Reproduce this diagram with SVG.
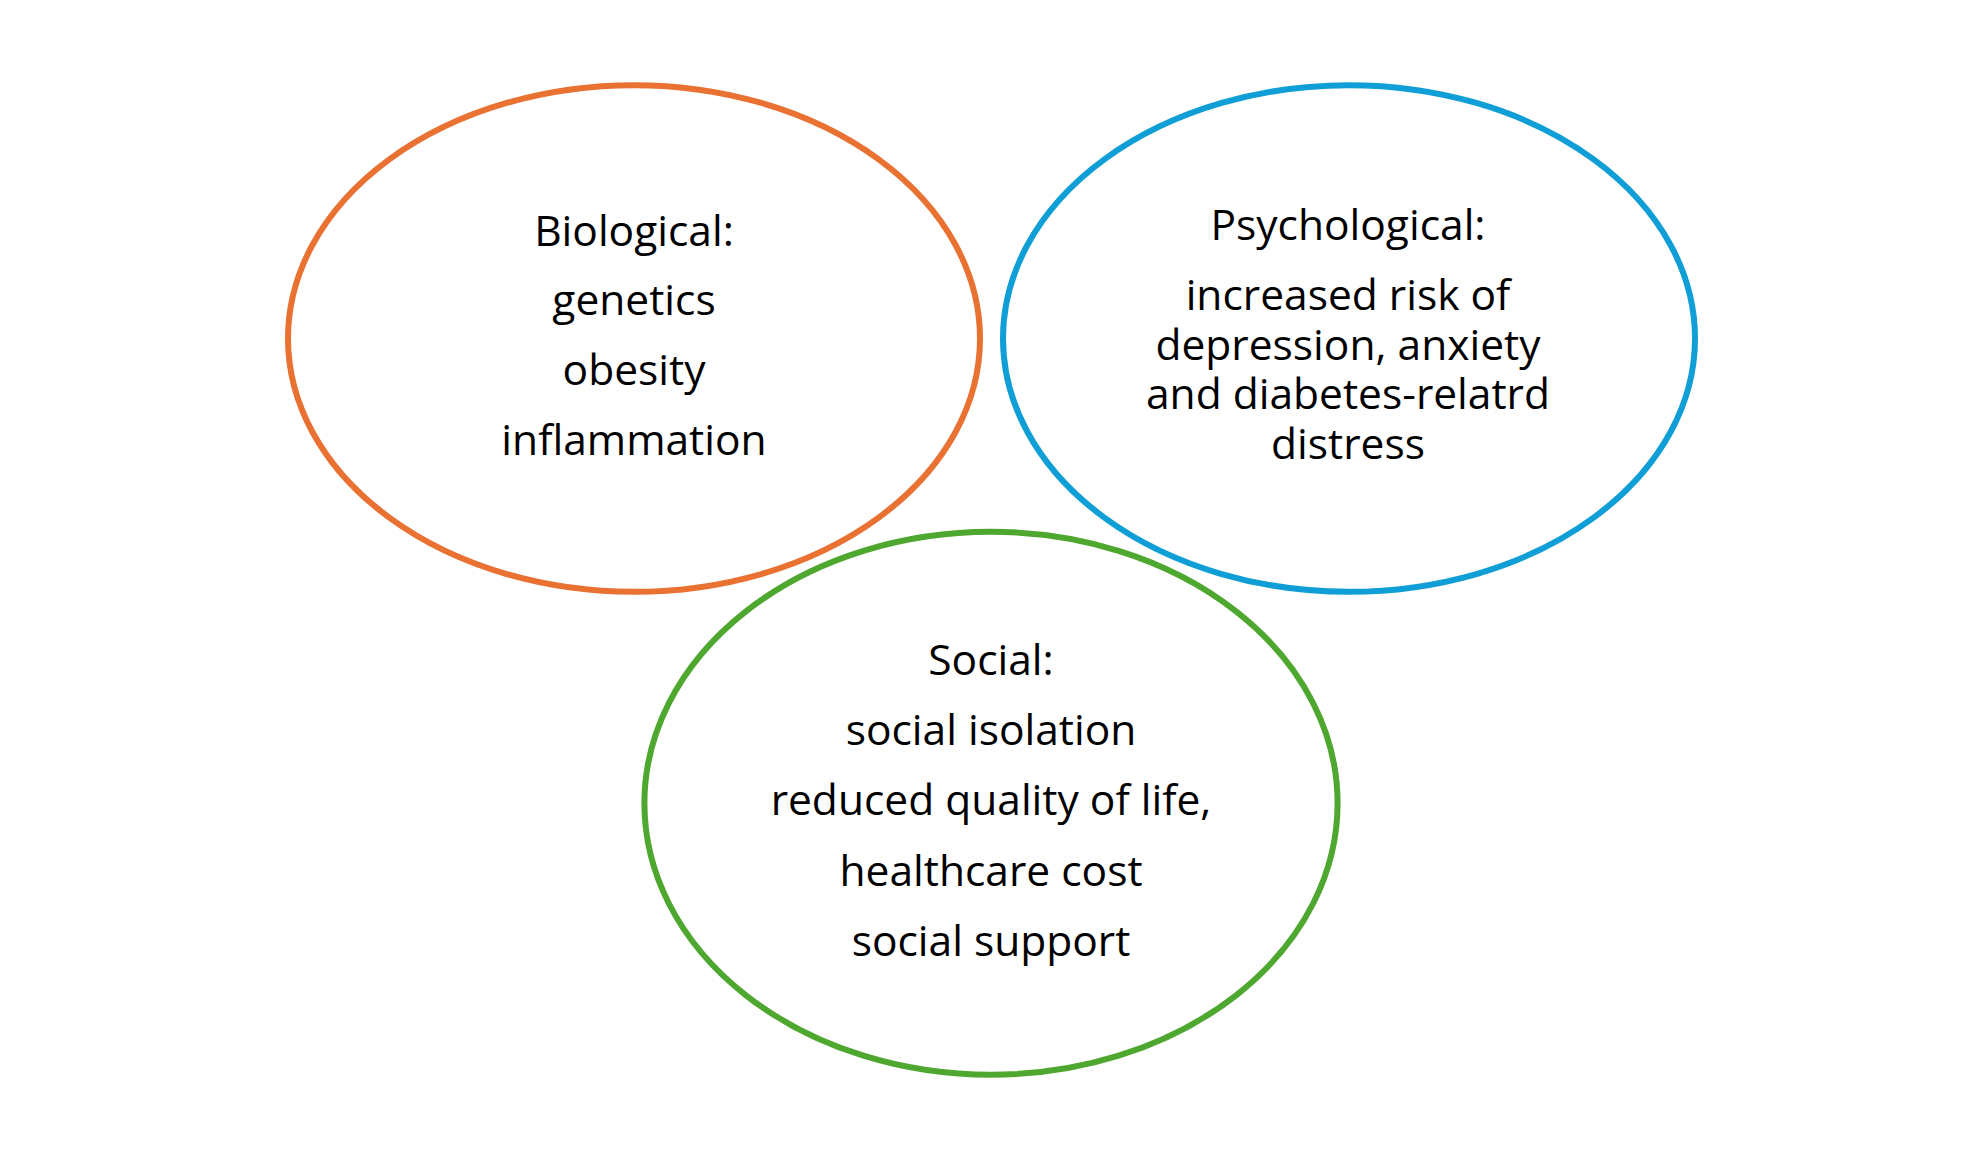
<svg xmlns="http://www.w3.org/2000/svg" width="1980" height="1155" viewBox="0 0 1980 1155">
<style>
.ell{fill:none;stroke-width:6}
.t{font-family:"Open Sans","Noto Sans","Liberation Sans",sans-serif;font-size:42.5px;fill:#000;text-anchor:middle}
</style>
<rect width="1980" height="1155" fill="#fff"/>
<g id="connectors"></g>
<g id="biological">
<ellipse class="ell" cx="634" cy="338.5" rx="346" ry="253.3" stroke="#E97132"/>
<text class="t" x="634" y="245.7">Biological:</text>
<text class="t" x="634" y="315">genetics</text>
<text class="t" x="634" y="385">obesity</text>
<text class="t" x="634" y="455">inflammation</text>
</g>
<g id="psychological">
<ellipse class="ell" cx="1349" cy="338.5" rx="346" ry="253.3" stroke="#0F9ED5"/>
<text class="t" x="1348" y="240.3">Psychological:</text>
<text class="t" x="1348" y="309.6">increased risk of</text>
<text class="t" x="1348" y="359.5">depression, anxiety</text>
<text class="t" x="1348" y="409.4">and diabetes-relatrd</text>
<text class="t" x="1348" y="459.3">distress</text>
</g>
<g id="social">
<ellipse class="ell" cx="991" cy="803.3" rx="346.6" ry="271.5" stroke="#4EA72E"/>
<text class="t" x="991" y="674.8">Social:</text>
<text class="t" x="991" y="745.1">social isolation</text>
<text class="t" x="991" y="815.4">reduced quality of life,</text>
<text class="t" x="991" y="885.7">healthcare cost</text>
<text class="t" x="991" y="956">social support</text>
</g>
</svg>
